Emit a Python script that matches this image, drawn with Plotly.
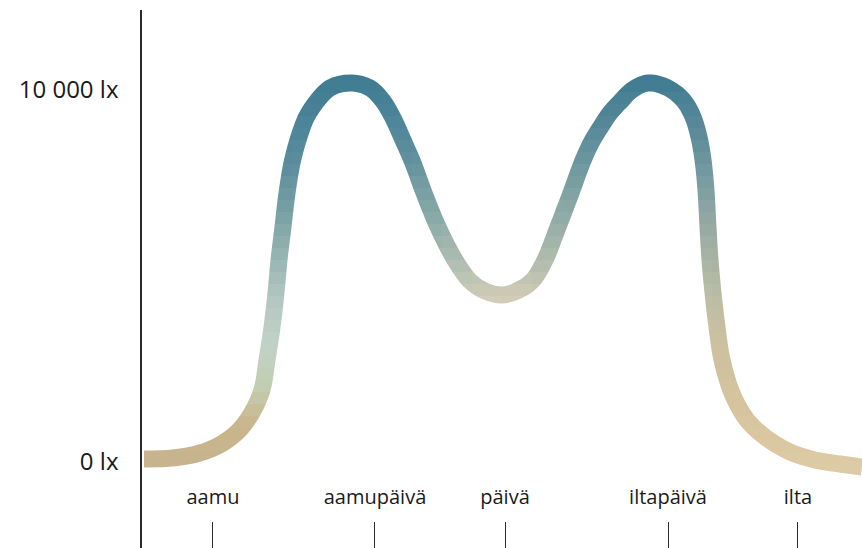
import plotly.graph_objects as go

# ---- data (x: position along the day 0..100, y: illuminance in lux)
position = [0.28, 4.31, 8.06, 11.25, 13.89, 16.53, 17.36, 18.06, 18.61, 19.03, 19.58, 20.14,
            20.83, 21.67, 22.78, 24.31, 26.11, 28.89, 31.67, 33.47, 34.86, 36.25, 37.64,
            39.17, 41.11, 43.47, 45.56, 47.64, 50.00, 52.36, 54.31, 55.97, 57.78, 59.58,
            61.11, 62.36, 63.61, 65.00, 66.53, 68.06, 70.28, 73.06, 75.28, 76.53, 77.36,
            77.92, 78.33, 78.61, 78.89, 79.31, 79.86, 80.56, 81.94, 84.03, 86.53, 90.00,
            93.47, 96.94, 100.0]
lux = [81, 108, 242, 511, 941, 1855, 2742, 3629, 4543, 5430, 6317, 7231,
       8037, 8655, 9247, 9704, 10053, 10188, 10053, 9704, 9247, 8655, 8037,
       7231, 6317, 5430, 4865, 4596, 4489, 4623, 4892, 5430, 6317, 7231,
       8037, 8575, 8978, 9381, 9704, 9999, 10188, 10053, 9704, 9274, 8736,
       8118, 7311, 6317, 5430, 4543, 3629, 2742, 1855, 1129, 672, 269,
       54, -54, -134]

categories = ["aamu", "aamupäivä", "päivä", "iltapäivä", "ilta"]
category_pos = [9.86, 32.36, 50.42, 73.06, 91.11]

y_tick_vals = [0, 10000]
y_tick_text = ["0 lx", "10 000 lx"]

X_RANGE = [0, 100]
Y_RANGE = [-2312, 12150]

# ---- styling: gradient stops (lux -> colour) for left, middle and right parts
LEFT = [(0, "#c7b38e"), (1000, "#c9b58c"), (2000, "#c3cdb0"), (3200, "#c1d2c7"),
        (4400, "#b3c7c0"), (6200, "#86a9a9"), (8000, "#5a8c9c"), (9200, "#4a8399"),
        (10300, "#3f7b92")]
MID = [(0, "#d6d0ba"), (4400, "#d4cdb7"), (5400, "#b3bfb0"), (6300, "#98b1ab"),
       (7200, "#80a4a6"), (8100, "#6a97a0"), (9000, "#55899a"), (10300, "#3f7b92")]
RIGHT = [(-200, "#ddcba6"), (1500, "#d7c49f"), (3300, "#cbc0a0"), (4500, "#b9bca4"),
         (6000, "#9eada2"), (7500, "#7a9da0"), (9000, "#5a8999"), (10300, "#3f7b92")]


def hex2rgb(h):
    h = h.lstrip("#")
    return [int(h[i:i + 2], 16) for i in (0, 2, 4)]


def scale(stops, v):
    if v <= stops[0][0]:
        return hex2rgb(stops[0][1])
    for (a, ca), (b, cb) in zip(stops[:-1], stops[1:]):
        if v <= b:
            t = (v - a) / (b - a)
            A, B = hex2rgb(ca), hex2rgb(cb)
            return [A[k] + (B[k] - A[k]) * t for k in range(3)]
    return hex2rgb(stops[-1][1])


def colour(x, v):
    l, m, r = scale(LEFT, v), scale(MID, v), scale(RIGHT, v)
    if x <= 20:
        c = l
    elif x <= 50:
        t = (x - 20) / 30
        c = [l[k] + (m[k] - l[k]) * t for k in range(3)]
    elif x <= 80:
        t = (x - 50) / 30
        c = [m[k] + (r[k] - m[k]) * t for k in range(3)]
    else:
        c = r
    return "rgb(%d,%d,%d)" % tuple(round(ch) for ch in c)


# ---- layout geometry
W, H = 862, 548
ML, MR, MT, MB = 142, 0, 10, 0
PW, PH = W - ML - MR, H - MT - MB          # 720 x 538 plot area
LW = 17

# gradient tiles: the same smooth curve is drawn in many small clipped sub-plots,
# each with its own colour (plotly has no gradient strokes)
COL_PX = 30
col_edges = list(range(0, PW + 1, COL_PX))
ROW_PX = 12
row_edges = list(range(0, PH, ROW_PX)) + [PH]


def to_px(x, v):
    return ((x - X_RANGE[0]) / (X_RANGE[1] - X_RANGE[0]) * PW,
            (v - Y_RANGE[0]) / (Y_RANGE[1] - Y_RANGE[0]) * PH)


pts = [to_px(x, v) for x, v in zip(position, lux)]


def near(x0, x1, y0, y1, pad=14):
    for (ax, ay), (bx, by) in zip(pts[:-1], pts[1:]):
        for k in range(21):
            t = k / 20
            px = ax + (bx - ax) * t
            py = ay + (by - ay) * t
            if x0 - pad <= px <= x1 + pad and y0 - pad <= py <= y1 + pad:
                return True
    return False


fig = go.Figure()
# invisible anchor trace on the main axes
fig.add_trace(go.Scatter(x=position, y=lux, mode="lines", line=dict(width=0),
                         hoverinfo="skip", showlegend=False))

layout_axes = {}
for ci in range(len(col_edges) - 1):
    x0, x1 = col_edges[ci], col_edges[ci + 1]
    layout_axes["xaxis%d" % (ci + 2)] = dict(
        domain=[x0 / PW, x1 / PW],
        range=[X_RANGE[0] + x0 / PW * (X_RANGE[1] - X_RANGE[0]),
               X_RANGE[0] + x1 / PW * (X_RANGE[1] - X_RANGE[0])],
        visible=False, fixedrange=True, anchor="free", automargin=False)
for ri in range(len(row_edges) - 1):
    y0, y1 = row_edges[ri], row_edges[ri + 1]
    layout_axes["yaxis%d" % (ri + 2)] = dict(
        domain=[y0 / PH, y1 / PH],
        range=[Y_RANGE[0] + y0 / PH * (Y_RANGE[1] - Y_RANGE[0]),
               Y_RANGE[0] + y1 / PH * (Y_RANGE[1] - Y_RANGE[0])],
        visible=False, fixedrange=True, anchor="free", automargin=False)

for ci in range(len(col_edges) - 1):
    x0, x1 = col_edges[ci], col_edges[ci + 1]
    for ri in range(len(row_edges) - 1):
        y0, y1 = row_edges[ri], row_edges[ri + 1]
        if not near(x0, x1, y0, y1):
            continue
        cx = X_RANGE[0] + (x0 + x1) / 2 / PW * (X_RANGE[1] - X_RANGE[0])
        cy = Y_RANGE[0] + (y0 + y1) / 2 / PH * (Y_RANGE[1] - Y_RANGE[0])
        fig.add_trace(go.Scatter(
            x=position, y=lux, mode="lines",
            line=dict(shape="spline", smoothing=1, color=colour(cx, cy), width=LW),
            xaxis="x%d" % (ci + 2), yaxis="y%d" % (ri + 2),
            hoverinfo="skip", showlegend=False))

font_family = "'Open Sans', sans-serif"
fig.update_layout(
    template="none",
    width=W, height=H,
    margin=dict(l=ML, r=MR, t=MT, b=MB, pad=0, autoexpand=False),
    paper_bgcolor="white", plot_bgcolor="rgba(0,0,0,0)",
    showlegend=False,
    xaxis=dict(range=X_RANGE, domain=[0, 1], anchor="free", position=0, side="top",
               tickmode="array", tickvals=category_pos, ticktext=categories,
               ticks="outside", ticklen=26, tickwidth=1.3, tickcolor="#2a2a2a",
               showline=False, showgrid=False, zeroline=False, automargin=False,
               ticklabelstandoff=10, fixedrange=True,
               tickfont=dict(family=font_family, size=20, color="#1a1a1a")),
    yaxis=dict(range=Y_RANGE, domain=[0, 1], tickmode="array", tickvals=y_tick_vals,
               ticktext=y_tick_text, showline=True, linecolor="#2a2a2a", linewidth=1.5,
               ticks="", showgrid=False, zeroline=False, ticklabelstandoff=17,
               automargin=False, fixedrange=True,
               tickfont=dict(family=font_family, size=24, color="#1a1a1a")),
    **layout_axes,
)

fig.write_html("out.html", config={"displayModeBar": False},
               post_script="document.body.style.margin='0';document.body.style.overflow='hidden';")
